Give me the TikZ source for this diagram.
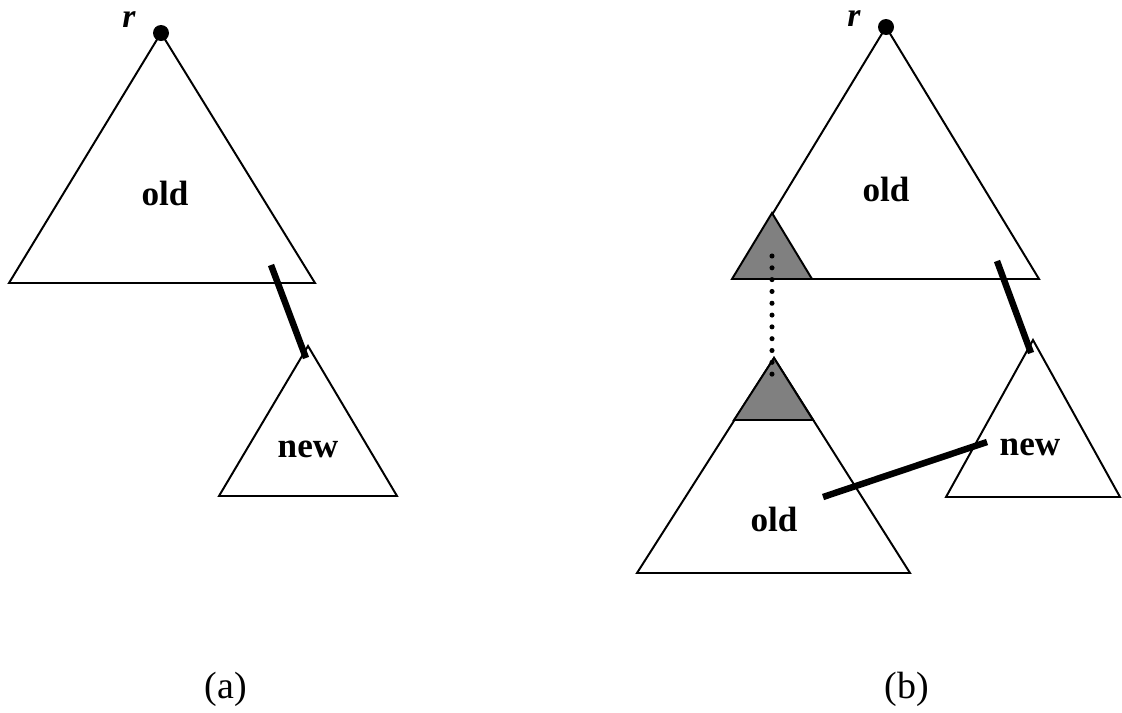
\documentclass[tikz,border=0pt]{standalone}
\usepackage{fontspec}
\setmainfont{Liberation Serif}
\usepackage{tikz}
\usetikzlibrary{positioning}

\tikzset{
  tree/.style={line width=1.4pt, line join=miter},
  shade/.style={tree, fill=black!50},
  link/.style={line width=4.6pt},
  lbl/.style={anchor=base, inner sep=0pt, font=\fontsize{25}{30}\selectfont\bfseries},
  rootlbl/.style={lbl, text height=0.5em, font=\fontsize{24}{28}\selectfont\bfseries\itshape},
  caption/.style={anchor=base, inner sep=0pt, font=\fontsize{27}{32}\selectfont}
}

\begin{document}
\begin{tikzpicture}[x=0.025cm, y=-0.025cm]
    \useasboundingbox (0,0) rectangle (1122,712);
    % (a)
    \coordinate (ra) at (161,33);
    \coordinate (na) at (308,346);
    \draw[tree] (ra) -- (9,283) -- (315,283) -- cycle;
    \draw[tree] (na) -- (219,496) -- (397,496) -- cycle;
    \fill (ra) circle (8);
    \node[rootlbl] (r1) at (129,27) {r};
    \node[lbl] (olda) at (165,205) {old};
    \node[lbl] (newa) at (308,457) {new};
    \coordinate (ta) at (271,265);
    \coordinate (ba) at (306,358);
    \draw[link] (ta) -- (ba);
    \node[caption] (capa) at (226,698) {(a)};
    % (b)
    \coordinate (rb) at (886,27);
    \coordinate (nb) at (1033,340);
    \coordinate (lb) at (774,358);
    \draw[tree] (rb) -- (733,279) -- (1039,279) -- cycle;
    \draw[shade] (772,213) -- (732,279) -- (812,279) -- cycle;
    \draw[tree] (lb) -- (637,573) -- (910,573) -- cycle;
    \draw[shade] (lb) -- (734,420) -- (813,420) -- cycle;
    \draw[tree] (nb) -- (946,497) -- (1120,497) -- cycle;
    \fill (rb) circle (8);
    \node[rootlbl] (r2) at (854,26) {r};
    \node[lbl] (oldb) at (886,201) {old};
    \node[lbl] (oldc) at (774,531) {old};
    \node[lbl] (newb) at (1030,455) {new};
    \draw[line width=3.6pt, line cap=round, dash pattern=on 0pt off 8.4pt]
      (772,256) -- (772,382);
    \coordinate (tb) at (997,261);
    \coordinate (bb) at (1031,353);
    \draw[link] (tb) -- (bb);
    \coordinate (lc) at (823,497);
    \coordinate (rc) at (987,442);
    \draw[link] (lc) -- (rc);
    \node[caption] (capb) at (907,698) {(b)};
\end{tikzpicture}
\end{document}
